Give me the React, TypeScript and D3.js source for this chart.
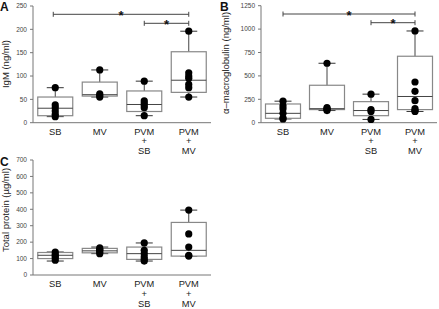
import React from "react";
import * as d3 from "d3";

const categories = ["SB", "MV", "PVM+SB", "PVM+MV"];
const categoryLines = [["SB"], ["MV"], ["PVM", "+", "SB"], ["PVM", "+", "MV"]];

// Panel A: IgM (ng/ml)
const igmTicks = [0, 50, 100, 150, 200, 250];
const igmMin = [13, 55, 15, 55];
const igmQ1 = [15, 57, 24, 65];
const igmMedian = [31, 60, 39, 91];
const igmQ3 = [55, 87, 68, 152];
const igmMax = [75, 113, 89, 196];
const igmPoints = [
  [75, 38, 32, 25, 18, 13],
  [113, 62, 58, 55],
  [89, 47, 42, 37, 32, 15],
  [196, 107, 100, 95, 82, 75, 55],
];

// Panel B: alpha-macroglobulin (ng/ml)
const amTicks = [0, 250, 500, 750, 1000, 1250];
const amMin = [40, 130, 35, 120];
const amQ1 = [47, 140, 75, 140];
const amMedian = [100, 150, 130, 280];
const amQ3 = [200, 400, 225, 710];
const amMax = [230, 635, 305, 980];
const amPoints = [
  [230, 180, 150, 100, 50, 40],
  [635, 160, 150, 140, 130],
  [305, 140, 120, 35],
  [980, 435, 335, 235, 150, 130, 120],
];

// Panel C: Total protein (µg/ml)
const tpTicks = [0, 100, 200, 300, 400, 500, 600, 700];
const tpMin = [85, 130, 85, 115];
const tpQ1 = [100, 135, 95, 115];
const tpMedian = [120, 147, 130, 150];
const tpQ3 = [137, 162, 170, 320];
const tpMax = [140, 170, 195, 395];
const tpPoints = [
  [140, 125, 115, 105, 90],
  [165, 155, 150, 140, 130],
  [195, 150, 130, 110, 95, 85],
  [395, 250, 170, 120, 115],
];

// significance comparisons [fromIndex, toIndex]
const sigPairs: [number, number][] = [
  [0, 3],
  [2, 3],
];

const FONT = "'Liberation Sans', Arial, sans-serif";
const NARROW = "'Liberation Sans Narrow', 'Liberation Sans', Arial, sans-serif";

type PanelProps = {
  letter: string;
  letterX: number;
  letterY: number;
  label: string;
  labelX: number;
  labelY: number;
  x0: number;
  x1: number;
  yTop: number;
  yBottom: number;
  ticks: number[];
  mins: number[];
  q1: number[];
  med: number[];
  q3: number[];
  maxs: number[];
  points: number[][];
  sig?: boolean;
  sigY?: number[];
  sigStartOffset?: number;
};

function Panel(p: PanelProps) {
  const x = d3.scaleBand<string>().domain(categories).range([p.x0, p.x1]);
  const cx = (i: number) => (x(categories[i]) as number) + x.bandwidth() / 2;
  const y = d3
    .scaleLinear()
    .domain([0, p.ticks[p.ticks.length - 1]])
    .range([p.yBottom, p.yTop]);
  const bw = 35;
  const capW = 17;
  return (
    <g fontFamily={FONT}>
      <text x={p.letterX} y={p.letterY} fontSize={12} fontWeight="bold" fill="#111">
        {p.letter}
      </text>
      <text
        transform={`translate(${p.labelX},${p.labelY}) rotate(-90)`}
        textAnchor="middle"
        fontSize={9.5}
        fill="#222"
      >
        {p.label}
      </text>
      {/* y axis */}
      <line x1={p.x0} x2={p.x0} y1={p.yTop} y2={p.yBottom} stroke="#777" strokeWidth={1} />
      {p.ticks.map((t) => (
        <g key={t}>
          <line x1={p.x0 - 3} x2={p.x0} y1={y(t)} y2={y(t)} stroke="#777" strokeWidth={1} />
          <text x={p.x0 - 6} y={y(t) + 2.3} textAnchor="end" fontSize={6.5} fill="#444">
            {t}
          </text>
        </g>
      ))}
      {/* x axis */}
      <line x1={p.x0} x2={p.x1} y1={p.yBottom} y2={p.yBottom} stroke="#777" strokeWidth={1} />
      {categoryLines.map((lines, i) =>
        lines.map((s, j) => (
          <text
            key={`${i}-${j}`}
            x={cx(i)}
            y={p.yBottom + 11.8 + j * 9.9}
            textAnchor="middle"
            fontSize={9.3}
            fontFamily={NARROW}
            fill="#222"
          >
            {s}
          </text>
        ))
      )}
      {/* boxes */}
      {categories.map((c, i) => {
        const xc = cx(i);
        return (
          <g key={c}>
            <line x1={xc} x2={xc} y1={y(p.maxs[i])} y2={y(p.mins[i])} stroke="#444" strokeWidth={1} />
            <line x1={xc - capW / 2} x2={xc + capW / 2} y1={y(p.maxs[i])} y2={y(p.maxs[i])} stroke="#333" strokeWidth={1} />
            <line x1={xc - capW / 2} x2={xc + capW / 2} y1={y(p.mins[i])} y2={y(p.mins[i])} stroke="#333" strokeWidth={1} />
            <rect
              x={xc - bw / 2}
              y={y(p.q3[i])}
              width={bw}
              height={y(p.q1[i]) - y(p.q3[i])}
              fill="#fff"
              stroke="#888"
              strokeWidth={1.2}
            />
            <line x1={xc - bw / 2} x2={xc + bw / 2} y1={y(p.med[i])} y2={y(p.med[i])} stroke="#444" strokeWidth={1} />
            {p.points[i].map((v, k) => (
              <circle key={k} cx={xc} cy={y(v)} r={3.6} fill="#000" />
            ))}
          </g>
        );
      })}
      {p.sig &&
        sigPairs.map(([a, b], k) => {
          const yy = p.sigY![k];
          const xa = cx(a) - (k === 0 ? p.sigStartOffset || 0 : 0);
          const xb = cx(b);
          return (
            <g key={k}>
              <line x1={xa} x2={xb} y1={yy} y2={yy} stroke="#444" strokeWidth={1} />
              <line x1={xa} x2={xa} y1={yy - 2.5} y2={yy + 2.5} stroke="#444" strokeWidth={1} />
              <line x1={xb} x2={xb} y1={yy - 2.5} y2={yy + 2.5} stroke="#444" strokeWidth={1} />
              <text x={(xa + xb) / 2} y={yy + 5.5} textAnchor="middle" fontSize={13} fontWeight="bold" fill="#111">
                *
              </text>
            </g>
          );
        })}
    </g>
  );
}

export default function App() {
  return (
    <svg width={439} height={309} style={{ position: "absolute", left: 0, top: 0, background: "#fff" }}>
      <rect width={439} height={309} fill="#fff" />
      <Panel
        letter="A"
        letterX={0}
        letterY={11}
        label="IgM (ng/ml)"
        labelX={8.5}
        labelY={64}
        x0={33}
        x1={211}
        yTop={6}
        yBottom={122.7}
        ticks={igmTicks}
        mins={igmMin}
        q1={igmQ1}
        med={igmMedian}
        q3={igmQ3}
        maxs={igmMax}
        points={igmPoints}
        sig
        sigY={[14.3, 23.3]}
        sigStartOffset={2}
      />
      <Panel
        letter="B"
        letterX={220}
        letterY={11}
        label="α–macroglobulin (ng/ml)"
        labelX={229}
        labelY={63}
        x0={261}
        x1={437}
        yTop={5.7}
        yBottom={122.7}
        ticks={amTicks}
        mins={amMin}
        q1={amQ1}
        med={amMedian}
        q3={amQ3}
        maxs={amMax}
        points={amPoints}
        sig
        sigY={[14, 22.7]}
      />
      <Panel
        letter="C"
        letterX={0}
        letterY={166}
        label="Total protein (µg/ml)"
        labelX={8.5}
        labelY={210}
        x0={33}
        x1={211}
        yTop={160}
        yBottom={275}
        ticks={tpTicks}
        mins={tpMin}
        q1={tpQ1}
        med={tpMedian}
        q3={tpQ3}
        maxs={tpMax}
        points={tpPoints}
      />
    </svg>
  );
}
